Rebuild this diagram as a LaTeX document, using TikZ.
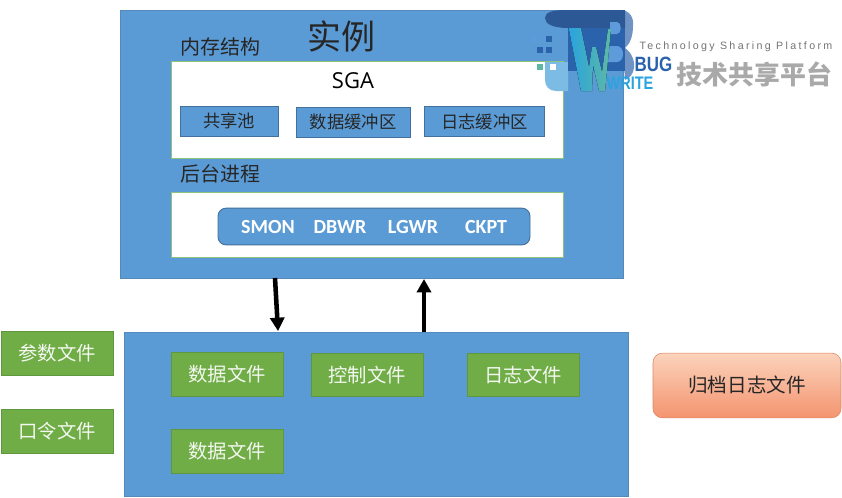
\documentclass[tikz,border=0pt]{standalone}
\usepackage{fontspec}
\setmainfont{Noto Sans CJK SC}
\newfontfamily\latinfont{Carlito}
\newfontfamily\sgafont{Open Sans}
\newfontfamily\logofont[LetterSpace=22]{Liberation Sans}
\newfontfamily\logoboldfont{Liberation Sans}
\usetikzlibrary{arrows.meta,shadings}

\definecolor{panelblue}{HTML}{5B9BD5}
\definecolor{panelline}{HTML}{5489BA}
\definecolor{bufline}{HTML}{41719C}
\definecolor{filegreen}{HTML}{70AD47}
\definecolor{fileline}{HTML}{5F9640}
\definecolor{boxgreen}{HTML}{8CC279}
\definecolor{archivetop}{HTML}{FBD3BC}
\definecolor{archivebottom}{HTML}{F4946F}
\definecolor{logogrey}{HTML}{A9A9A9}
\definecolor{logodark}{HTML}{2C5896}
\definecolor{logomid}{HTML}{2A63AC}
\definecolor{logoslate}{HTML}{6F93C4}
\definecolor{logohole}{HTML}{5E9BDB}
\definecolor{logocyan}{HTML}{2AA3DE}
\definecolor{logolight}{HTML}{7CBBE3}
\definecolor{logoteal}{HTML}{5DB8A6}

\tikzset{
 panel/.style={draw=panelline,fill=panelblue,line width=0.5pt,anchor=north west,inner sep=0pt},
 whitebox/.style={draw=boxgreen,fill=white,line width=1pt,anchor=north west,inner sep=0pt},
 bufbox/.style={draw=bufline,fill=panelblue,line width=0.7pt,font=\fontsize{13}{15}\selectfont,text=black!85,inner sep=0pt},
 filebox/.style={draw=fileline,fill=filegreen,line width=0.6pt,font=\fontsize{14.5}{16}\selectfont,text=white!92!filegreen,minimum width=84pt,minimum height=32.5pt,inner sep=0pt},
 heading/.style={font=\fontsize{15}{17}\selectfont,text=black!85,inner sep=0pt},
 bigarrow/.style={draw=black,line width=3.4pt,-{Triangle[length=10pt,width=10.5pt]}},
 logopix/.style={fill=#1,draw=none}
}

\begin{document}
\begin{tikzpicture}[x=0.75pt,y=-0.75pt]
 \useasboundingbox (0,0) rectangle (842,497);

 %instance panel
 \node[panel,minimum width=377.5pt,minimum height=201pt] (instance) at (120,10) {};
 \node[font=\fontsize{25.5}{28}\selectfont,text=black!85,inner sep=0pt] (title) at (341,36) {实例};
 \node[heading] (memlabel) at (220,47) {内存结构};
 \node[heading] (proclabel) at (220,174) {后台进程};

 %SGA and its buffers
 \node[whitebox,minimum width=294pt,minimum height=72.5pt] (sga) at (171,61) {};
 \node[font=\sgafont\fontsize{16.5}{19}\selectfont,text=black,inner sep=0pt] (sgalabel) at (353,81) {SGA};
 \node[bufbox,minimum width=73.5pt,minimum height=22.5pt] (pool) at (229,121) {共享池};
 \node[bufbox,minimum width=85.5pt,minimum height=22.5pt] (databuf) at (353,122) {数据缓冲区};
 \node[bufbox,minimum width=90.5pt,minimum height=22pt] (logbuf) at (484.5,121.5) {日志缓冲区};

 %background processes
 \node[whitebox,minimum width=294pt,minimum height=48.5pt] (procs) at (171,192) {};
 \node[draw=bufline,fill=panelblue,line width=0.7pt,rounded corners=6pt,minimum width=234pt,minimum height=27.5pt,inner sep=0pt] (procbar) at (374,226.5) {};
 \foreach \name/\xpos in {SMON/268,DBWR/340,LGWR/413,CKPT/486}
  \node[font=\latinfont\bfseries\fontsize{15}{17}\selectfont,text=white,inner sep=0pt] (\name) at (\xpos,227) {\name};

 %files panel
 \node[panel,minimum width=378pt,minimum height=123pt] (files) at (124,332) {};
 \node[filebox] (datafile) at (227,374.5) {数据文件};
 \node[filebox] (ctrlfile) at (367,375) {控制文件};
 \node[filebox] (logfile) at (523,375) {日志文件};
 \node[filebox] (datafiletwo) at (227,451.5) {数据文件};

 %files outside the panel
 \node[filebox] (paramfile) at (57,353.5) {参数文件};
 \node[filebox] (passfile) at (57,431.5) {口令文件};

 %archive
 \node[draw=archivebottom!90!black,line width=0.4pt,top color=archivetop,bottom color=archivebottom,rounded corners=7pt,minimum width=141pt,minimum height=48.5pt,inner sep=0pt,font=\fontsize{14.7}{16}\selectfont,text=black!85] (archive) at (747,385.5) {归档日志文件};

 %arrows between the panels
 \coordinate (outstart) at (275,278);
 \coordinate (outend) at (278,331);
 \coordinate (instart) at (424,332);
 \coordinate (inend) at (424,279);
 \draw[bigarrow] (outstart) -- (outend);
 \draw[bigarrow] (instart) -- (inend);

 %logo, cylinder behind the W
 \fill[logolight] (545,62) -- (568,62) -- (568,91) -- (556,91) .. controls (549,91) and (545,86) .. (545,80) -- cycle;
 \fill[logoslate] (620,10) .. controls (630,10) and (634,18) .. (633,26) .. controls (633,36) and (630,44) .. (625,48) .. controls (631,52) and (635,60) .. (634,68) .. controls (633,74) and (630,78) .. (625,80) -- cycle;
 \fill[logomid] (568,26) -- (625,26) -- (625,71) -- (568,71) -- cycle;
 \fill[logodark] (545,18) .. controls (545,12) and (553,10) .. (566,10) -- (625,10) -- (625,28) -- (568,28) .. controls (553,28) and (545,24) .. (545,18) -- cycle;
 \fill[logohole] (610,22) -- (617,22) .. controls (622,22) and (622,34) .. (617,34) -- (610,34) -- cycle;
 \fill[logohole] (606,46) -- (617,46) .. controls (625,46) and (625,62) .. (617,62) -- (606,62) -- cycle;
 \fill[left color=logocyan,right color=logoteal] (568.7,28) -- (581,28) -- (589,67) -- (592,47) -- (596,47) -- (602,72) -- (608,29) -- (611,29) -- (605,91) -- (599,91) -- (593,65) -- (592,91) -- (581,91) -- cycle;

 %logo, pixels
 \foreach \px/\py/\pc in {531/36/logohole,546/36/logomid,537/47/logomid,546/47/logomid,537/64/logoteal,550/64/white}
  \fill[logopix=\pc] (\px,\py) rectangle ++(5.5,5.5);

 %logo, text
 \node[font=\logoboldfont\bfseries\fontsize{15.5}{17}\selectfont,text=logomid,inner sep=0pt] (logobug) at (653.5,64) {\scalebox{0.82}[1]{BUG}};
 \node[font=\logoboldfont\bfseries\fontsize{13.6}{15}\selectfont,text=logocyan,inner sep=0pt] (logowrite) at (630,83) {\scalebox{0.8}[1]{WRITE}};
 \node[font=\logofont\fontsize{8}{10}\selectfont,text=black!55,inner sep=0pt] (logotag) at (736,47) {Technology Sharing Platform};
 \node[font=\bfseries\fontsize{19.4}{22}\selectfont,text=logogrey,inner sep=0pt] (logoname) at (754.5,74) {技术共享平台};
\end{tikzpicture}
\end{document}
